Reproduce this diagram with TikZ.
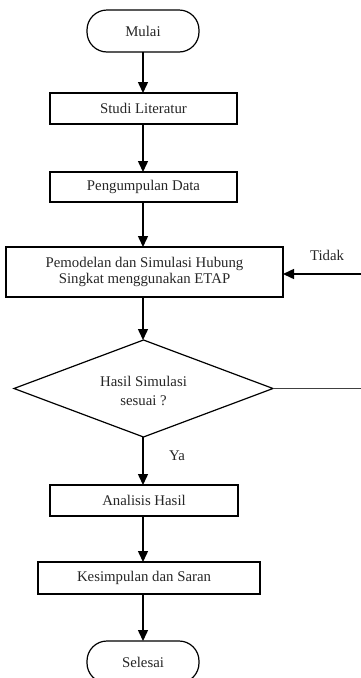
\documentclass[tikz,border=0pt]{standalone}
\usepackage{fontspec}
\setmainfont{Liberation Serif}
\usetikzlibrary{shapes.geometric,arrows.meta}
\begin{document}
\begin{tikzpicture}[x=1pt,y=-1pt,
  font=\fontsize{14.8pt}{15.8pt}\selectfont,
  txt/.style={text=black!85},
  procbox/.style={draw, line width=1.2pt, rectangle, inner sep=0pt, outer sep=0pt, align=center, text=black!85},
  termbox/.style={draw, line width=1.2pt, rectangle, rounded corners=20pt, minimum width=112pt, minimum height=42pt, inner sep=0pt, outer sep=0pt, text=black!85},
  decbox/.style={draw, line width=1.2pt, diamond, shape aspect=2.67, minimum width=259pt, minimum height=97pt, inner sep=0pt, outer sep=0pt, align=center, text=black!85},
  flow/.style={line width=1.5pt, -{Triangle[width=10pt,length=11pt]}},
  thinline/.style={line width=0.9pt, draw=black!75}
]
\useasboundingbox (0,0) rectangle (361,678);
\clip (0,0) rectangle (361,678);

\node[termbox] (mulai) at (143,31) {Mulai};
\node[procbox, minimum width=187pt, minimum height=31pt] (studi) at (143.5,108.5) {Studi Literatur};
\node[procbox, minimum width=187pt, minimum height=30pt] (data) at (143.5,187) {Pengumpulan Data};
\node[procbox, minimum width=277pt, minimum height=50pt] (model) at (144.5,272) {Pemodelan dan Simulasi Hubung\\Singkat menggunakan ETAP};
\node[decbox] (cek) at (143.5,388.5) {};
\node[txt, align=center] (cektext) at (143.5,391) {Hasil Simulasi\\[3pt]sesuai ?};
\node[procbox, minimum width=188pt, minimum height=31pt] (analisis) at (144,500.5) {Analisis Hasil};
\node[procbox, minimum width=222pt, minimum height=32pt] (simpul) at (149,578) {Kesimpulan dan Saran\hspace*{10pt}};
\node[termbox] (selesai) at (143,662) {Selesai};

\node[txt] (ya) at (177,456) {Ya};
\node[txt] (tidak) at (327,255) {Tidak};

\coordinate (kananA) at (361,388.5);
\coordinate (kananB) at (361,274);

\draw[flow] (mulai.south -| 143,0) -- (studi.north -| 143,0);
\draw[flow] (studi.south -| 143,0) -- (data.north -| 143,0);
\draw[flow] (data.south -| 143,0) -- (model.north -| 143,0);
\draw[flow] (model.south -| 143,0) -- (cek.north -| 143,0);
\draw[flow] (cek.south -| 143,0) -- (analisis.north -| 143,0);
\draw[flow] (analisis.south -| 143,0) -- (simpul.north -| 143,0);
\draw[flow] (simpul.south -| 143,0) -- (selesai.north -| 143,0);

\draw[thinline] (cek.east) -- (kananA);
\draw[flow] (kananB) -- (kananB -| model.east);
\end{tikzpicture}
\end{document}
